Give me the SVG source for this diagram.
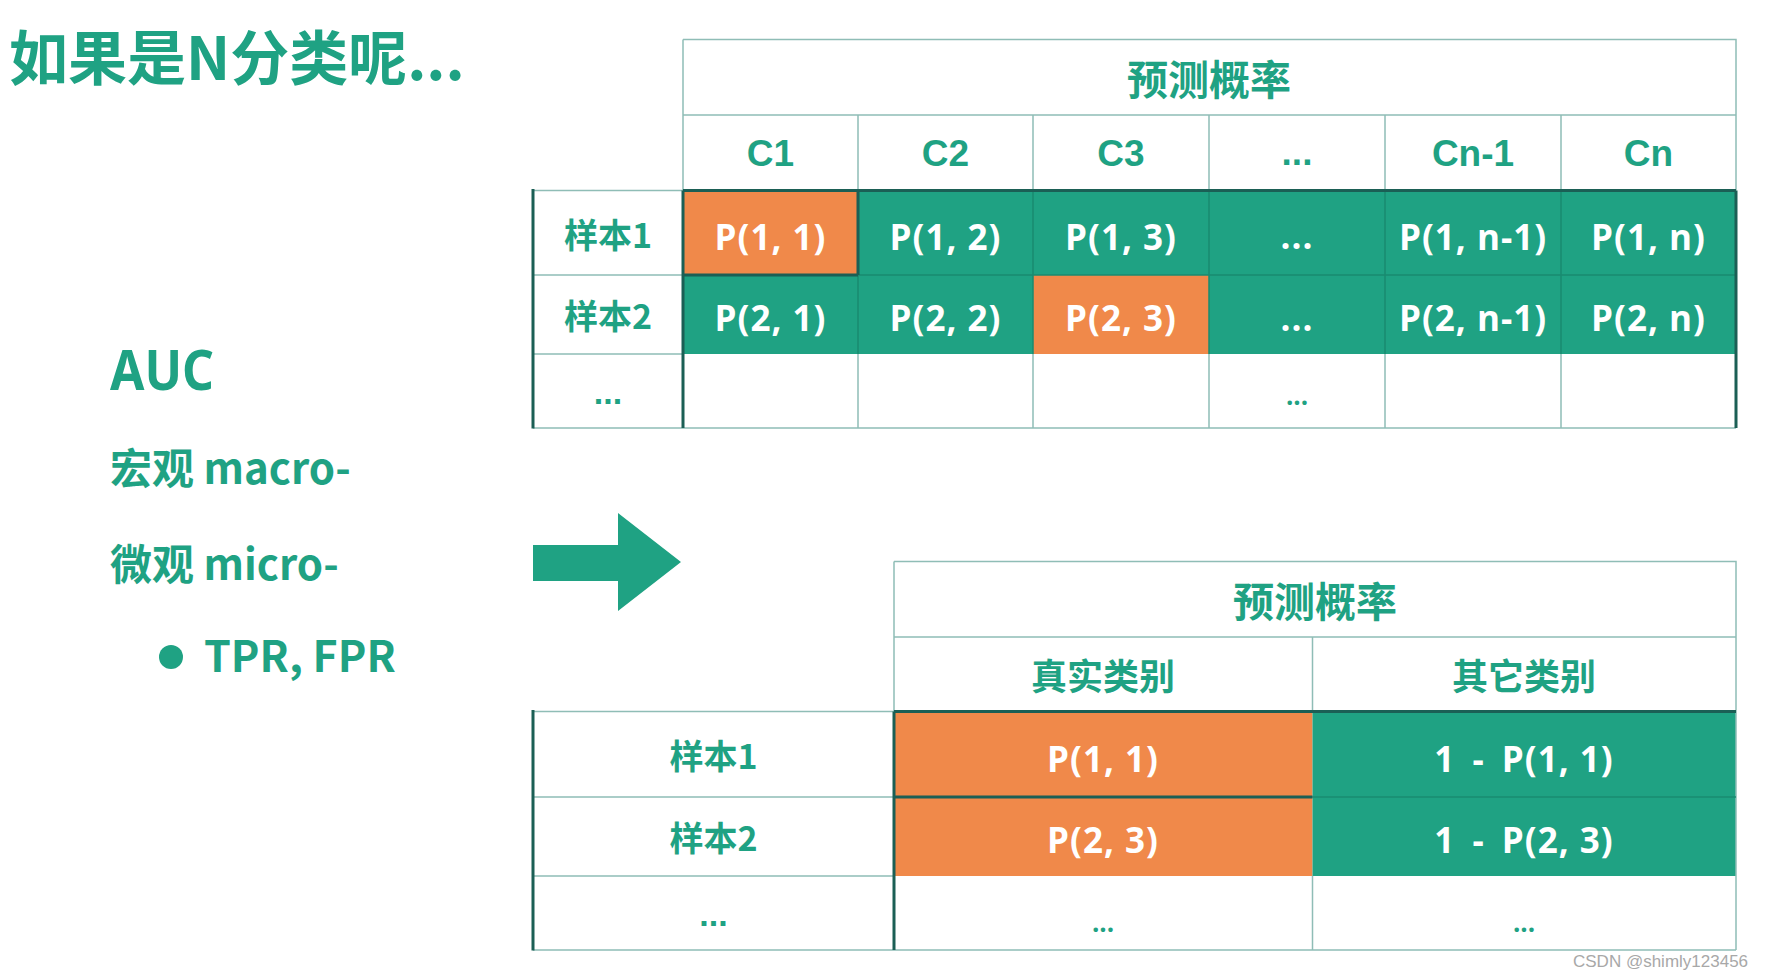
<svg xmlns="http://www.w3.org/2000/svg" width="1768" height="980" viewBox="0 0 1768 980">
<style>
.bg{fill:#ffffff}
.teal{fill:#1fa283}
.orange{fill:#f0894a}
.white{fill:#ffffff}
.lt{stroke:#8fbdb6;stroke-width:1.5;fill:none}
.dk{stroke:#1b5f55;stroke-width:3;fill:none}
.sub{stroke:#1a8b70;stroke-width:1.5;fill:none}
.cjk{font-family:"Noto Sans CJK SC","Noto Sans",sans-serif;font-weight:700}
.hd{font-family:"Liberation Sans",Arial,sans-serif;font-weight:700;fill:#1fa283}
.pv{font-family:"Open Sans","Noto Sans",sans-serif;font-weight:700;fill:#ffffff;font-size:35px;letter-spacing:1px}
.ws{word-spacing:7px}
.tt{fill:#1fa283}
.c{text-anchor:middle;dominant-baseline:central}
.m{text-anchor:middle}
</style>
<rect class="bg" x="0" y="0" width="1768" height="980"/>

<!-- Left texts -->
<g id="title"><text class="cjk tt" x="9" y="80" font-size="59">如果是N分类呢...</text></g>
<g id="auc"><text x="110" y="390" font-family="'Noto Sans',sans-serif" font-weight="700" font-size="56" fill="#1fa283" textLength="104" lengthAdjust="spacingAndGlyphs">AUC</text></g>
<g id="macro"><text class="cjk tt" x="110" y="484" font-size="42">宏观 macro-</text></g>
<g id="micro"><text class="cjk tt" x="110" y="580" font-size="42">微观 micro-</text></g>
<g id="tprfpr"><circle cx="171" cy="657" r="12" fill="#1fa283"/><text class="cjk tt" x="204" y="672" font-size="43">TPR, FPR</text></g>

<!-- Top table -->
<g id="top-table">
  <g id="top-fills">
    <rect class="orange" x="683" y="190.5" width="175" height="84.5"/>
    <rect class="teal" x="858" y="190.5" width="878" height="84.5"/>
    <rect class="teal" x="683" y="275" width="350" height="79"/>
    <rect class="orange" x="1033" y="275" width="176" height="79"/>
    <rect class="teal" x="1209" y="275" width="527" height="79"/>
  </g>
  <g id="top-lines">
    <path class="lt" d="M683 39.5H1736V190.5M683 39.5V190.5M683 115H1736M858 115V190.5M1033 115V190.5M1209 115V190.5M1385 115V190.5M1561 115V190.5"/>
    <path class="lt" d="M533 190.5H683M533 275H683M533 354H683M533 428H1736M858 354V428M1033 354V428M1209 354V428M1385 354V428M1561 354V428"/>
    <path class="sub" d="M858 275H1736M1033 190.5V354M1209 190.5V354M1385 190.5V354M1561 190.5V354M858 275V354"/>
    <path class="dk" d="M683 190.5H1736M683 275H858M858 190.5V275M533 189V428.5M683 190.5V428M1736 190.5V428"/>
  </g>
  <g id="top-header"><text class="cjk tt c" x="1209" y="77" font-size="41">预测概率</text></g>
  <g id="col-c1"><text class="hd c" x="770.5" y="153" font-size="37">C1</text></g>
  <g id="col-c2"><text class="hd c" x="945.5" y="153" font-size="37">C2</text></g>
  <g id="col-c3"><text class="hd c" x="1121" y="153" font-size="37">C3</text></g>
  <g id="col-dots"><text class="hd m" x="1297" y="165" font-size="37">...</text></g>
  <g id="col-cn1"><text class="hd c" x="1473" y="153" font-size="37">Cn-1</text></g>
  <g id="col-cn"><text class="hd c" x="1648.5" y="153" font-size="37">Cn</text></g>
  <g id="row-s1"><text class="cjk tt c" x="608" y="233" font-size="34">样本1</text></g>
  <g id="row-s2"><text class="cjk tt c" x="608" y="314" font-size="34">样本2</text></g>
  <g id="row-dots"><text class="hd m" x="608" y="404" font-size="34">...</text></g>
  <g id="p11"><text class="pv c" x="770.5" y="236">P(1, 1)</text></g>
  <g id="p12"><text class="pv c" x="945.5" y="236">P(1, 2)</text></g>
  <g id="p13"><text class="pv c" x="1121" y="236">P(1, 3)</text></g>
  <g id="p1d"><text class="pv m" x="1297" y="249" font-size="26" letter-spacing="0">...</text></g>
  <g id="p1n1"><text class="pv c" x="1473" y="236">P(1, n-1)</text></g>
  <g id="p1n"><text class="pv c" x="1648.5" y="236">P(1, n)</text></g>
  <g id="p21"><text class="pv c" x="770.5" y="317">P(2, 1)</text></g>
  <g id="p22"><text class="pv c" x="945.5" y="317">P(2, 2)</text></g>
  <g id="p23"><text class="pv c" x="1121" y="317">P(2, 3)</text></g>
  <g id="p2d"><text class="pv m" x="1297" y="331" font-size="26" letter-spacing="0">...</text></g>
  <g id="p2n1"><text class="pv c" x="1473" y="317">P(2, n-1)</text></g>
  <g id="p2n"><text class="pv c" x="1648.5" y="317">P(2, n)</text></g>
  <g id="p3d"><text class="m" x="1297" y="405" font-family="'Open Sans',sans-serif" font-weight="700" font-size="26" fill="#1fa283">...</text></g>
</g>

<!-- Connector arrow -->
<g id="connectors">
  <polygon points="533,545 618,545 618,513 681,562 618,611 618,581 533,581" fill="#1fa283"/>
</g>

<!-- Bottom table -->
<g id="bottom-table">
  <g id="bottom-fills">
    <rect class="orange" x="894" y="711.5" width="418.5" height="164.5"/>
    <rect class="teal" x="1312.5" y="711.5" width="423.5" height="164.5"/>
  </g>
  <g id="bottom-lines">
    <path class="lt" d="M894 561.5H1736V950M894 561.5V711.5M894 637H1736M1312.5 637V711.5"/>
    <path class="lt" d="M533 711.5H894M533 797H894M533 876H894M533 950H1736M1312.5 876V950"/>
    <path class="sub" d="M1312.5 797H1736"/>
    <path class="dk" d="M894 711.5H1736M894 797H1312.5M533 710V950.5M894 711.5V950"/>
  </g>
  <g id="b-header"><text class="cjk tt c" x="1315" y="599" font-size="41">预测概率</text></g>
  <g id="b-true"><text class="cjk tt c" x="1103" y="674" font-size="36">真实类别</text></g>
  <g id="b-other"><text class="cjk tt c" x="1524" y="674" font-size="36">其它类别</text></g>
  <g id="b-s1"><text class="cjk tt c" x="713.5" y="754" font-size="34">样本1</text></g>
  <g id="b-s2"><text class="cjk tt c" x="713.5" y="836" font-size="34">样本2</text></g>
  <g id="b-dots"><text class="hd m" x="713.5" y="926" font-size="34">...</text></g>
  <g id="b-p11"><text class="pv c" x="1103" y="758">P(1, 1)</text></g>
  <g id="b-p23"><text class="pv c" x="1103" y="839">P(2, 3)</text></g>
  <g id="b-o11"><text class="pv c" x="1524" y="758"><tspan class="ws">1 - P(1,</tspan> 1)</text></g>
  <g id="b-o23"><text class="pv c" x="1524" y="839"><tspan class="ws">1 - P(2,</tspan> 3)</text></g>
  <g id="b-d1"><text class="m" x="1103" y="932" font-family="'Open Sans',sans-serif" font-weight="700" font-size="26" fill="#1fa283">...</text></g>
  <g id="b-d2"><text class="m" x="1524" y="932" font-family="'Open Sans',sans-serif" font-weight="700" font-size="26" fill="#1fa283">...</text></g>
</g>

<g id="watermark"><text x="1573" y="967" font-family="'Liberation Sans',Arial,sans-serif" font-size="17" fill="#a8a8a8">CSDN @shimly123456</text></g>
</svg>
